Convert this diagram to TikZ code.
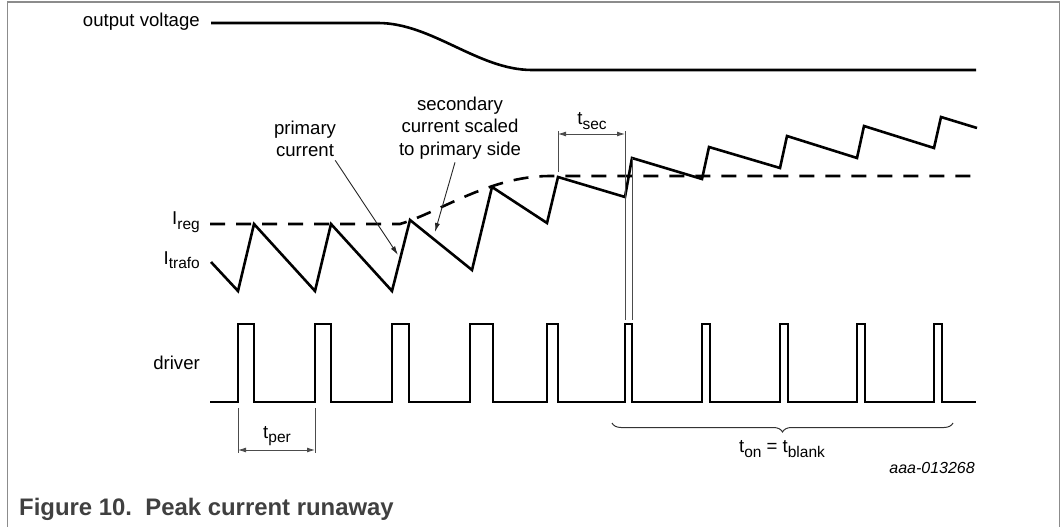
\documentclass[tikz,border=0pt]{standalone}
\usepackage{fontspec}
\setmainfont{Liberation Sans}
\usetikzlibrary{arrows.meta,decorations.pathreplacing}
\newcommand\sbs[1]{\raisebox{-0.45ex}{\fontsize{15.5}{15.5}\selectfont #1}}
\begin{document}
\begin{tikzpicture}[x=1pt,y=-1pt,
  lbl/.style={font=\fontsize{18.6}{22.5}\selectfont, inner sep=0pt, align=center},
  wave/.style={line width=2.6pt, line join=miter, black},
  dashwave/.style={line width=2.6pt, black, dash pattern=on 15pt off 11pt},
  thinline/.style={line width=0.9pt, draw=black!70},
  dim/.style={thinline, {Latex[length=8pt,width=5pt]}-{Latex[length=8pt,width=5pt]}},
  pointer/.style={line width=0.9pt, draw=black!85, -{Latex[length=9pt,width=5pt]}},
  frameline/.style={line width=1.6pt, draw=black!45}]
\useasboundingbox (0,0) rectangle (1061,527);
\draw[frameline] (7.5,527) -- (7.5,2) -- (1059.5,2) -- (1059.5,527);

% labels
\node[lbl, anchor=east] (ov) at (200,22) {output voltage};
\node[lbl, anchor=east] (ireg) at (200,222) {I\sbs{reg}};
\node[lbl, anchor=east] (itr) at (200,260) {I\sbs{trafo}};
\node[lbl, anchor=east] (drv) at (200,363) {driver};
\node[lbl] (prim) at (305,139) {primary\\current};
\node[lbl] (sec) at (460,128) {secondary\\current scaled\\to primary side};
\node[lbl] (tsec) at (592,121) {t\sbs{sec}};
\node[lbl] (tper) at (277,436) {t\sbs{per}};
\node[lbl] (ton) at (782,449) {t\sbs{on} = t\sbs{blank}};
\node[inner sep=0pt, anchor=east, font=\fontsize{16}{16}\selectfont\itshape] (code) at (975,468) {aaa-013268};
\node[inner sep=0pt, anchor=west, font=\fontsize{23.9}{28}\selectfont\bfseries, text=black!75] (cap) at (19,509) {Figure 10.\ \ Peak current runaway};

% output voltage
\draw[wave] (211,23) -- (378,23) .. controls (432,23) and (478,70) .. (532,70) -- (976,70);

% regulation level (dashed)
\draw[dashwave] (210,224) -- (400,224) .. controls (440,212) and (490,176) .. (550,176) -- (976,176);

% transformer current
\draw[wave] (211,262) -- (238,291) -- (254,224) -- (315,291) -- (331,224) -- (392,291)
  -- (410,220) -- (472,270) -- (492,187) -- (547,223) -- (558,177) -- (625,197)
  -- (632,158) -- (702,179) -- (709,147) -- (780,168) -- (787,136) -- (857,158)
  -- (864,126) -- (934,148) -- (941,117) -- (977,128);

% driver pulses
\draw[wave] (210,402)
  \foreach \a/\b in {238/254,315/331,392/409,470/493,547/558,625/632,702/710,780/788,857/865,934/942}
  { -- (\a,402) -- (\a,324) -- (\b,324) -- (\b,402) } -- (976,402);

% pointers
\coordinate (pe) at (398,255);
\coordinate (se) at (435,232);
\draw[pointer] ([xshift=-1pt,yshift=-3pt]prim.south east) -- (pe);
\draw[pointer] ([xshift=-5pt,yshift=-3pt]sec.south) -- (se);

% t_sec dimension
\coordinate (s1t) at (558,131);
\coordinate (s1b) at (558,172);
\coordinate (s2t) at (625,131);
\coordinate (s2b) at (625,320);
\coordinate (s3t) at (632,158);
\coordinate (s3b) at (632,320);
\draw[thinline] (s1t) -- (s1b);
\draw[thinline] (s2t) -- (s2b);
\draw[thinline] (s3t) -- (s3b);
\draw[dim] (558,134) -- (625,134);

% t_per dimension
\coordinate (p1t) at (238,408);
\coordinate (p1b) at (238,453);
\coordinate (p2t) at (315,408);
\coordinate (p2b) at (315,453);
\draw[thinline] (p1t) -- (p1b);
\draw[thinline] (p2t) -- (p2b);
\draw[dim] (238,450) -- (315,450);

% brace
\coordinate (b1) at (612,423);
\coordinate (b2) at (953,423);
\draw[line width=1pt, draw=black!80, decorate, decoration={brace, mirror, amplitude=9pt}] (b1) -- (b2);
\end{tikzpicture}
\end{document}
